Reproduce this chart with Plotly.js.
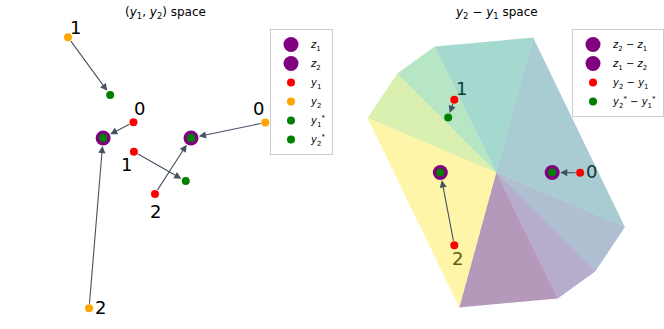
<!DOCTYPE html>
<html><head><meta charset="utf-8">
<script src="https://cdn.plot.ly/plotly-3.0.1.min.js"></script>
<style>html,body{margin:0;padding:0;background:#fff}#chart{width:664px;height:329px}</style>
</head><body><div id="chart"></div>
<script>
// ---- data ----
const pointIds = ['0', '1', '2'];
const z1 = [0, 0];
const z2 = [2, 0];
const y1x = [0.69, 0.70, 1.18];
const y1y = [0.36, -0.31, -1.27];
const y2x = [3.69, -0.80, -0.32];
const y2y = [0.35, 2.29, -3.87];
const y1starX = [0, 1.88, 2];
const y1starY = [0, -0.98, 0];
const y2starX = [2, 0.16, 0];
const y2starY = [0, 0.98, 0];
// polygon (fan) vertices in y2 - y1 space
const polyX = [2.2, 3.54, 4.6, 1.32, -2.2, -3.54, -4.6, -1.32];
const polyY = [-4.5, -3.54, -1.95, 4.82, 4.5, 3.54, 1.95, -4.82];
const polyColors = ['68,1,84', '70,50,126', '54,92,141', '39,127,142', '31,161,135', '74,193,109', '160,218,57', '253,231,37'];
// label offsets (pixels)
const y1LabelShift = [[6, -14], [-7, 13], [1, 18]];
const y2LabelShift = [[-7, -14], [7, -10], [11, -1]];
const diffLabelShift = [[11, -1], [7, -11], [3, 13]];
const diffLabelColors = ['rgb(16,51,57)', 'rgb(12,64,54)', 'rgb(101,92,15)'];

// ---- derived ----
const dX = y2x.map((v, i) => v - y1x[i]);
const dY = y2y.map((v, i) => v - y1y[i]);
const dsX = y2starX.map((v, i) => v - y1starX[i]);
const dsY = y2starY.map((v, i) => v - y1starY[i]);

const PURPLE = '#800080', RED = '#ff0000', ORANGE = '#ffa500', GREEN = '#008000';
const BIG = 15, SMALL = 8;
const traces = [];

// left panel
traces.push({x: [z1[0]], y: [z1[1]], mode: 'markers', marker: {color: PURPLE, size: BIG}, name: '<i>z</i><sub>1</sub>', legend: 'legend', hoverinfo: 'skip'});
traces.push({x: [z2[0]], y: [z2[1]], mode: 'markers', marker: {color: PURPLE, size: BIG}, name: '<i>z</i><sub>2</sub>', legend: 'legend', hoverinfo: 'skip'});
traces.push({x: y1x, y: y1y, mode: 'markers', marker: {color: RED, size: SMALL}, name: '<i>y</i><sub>1</sub>', legend: 'legend', hoverinfo: 'skip'});
traces.push({x: y2x, y: y2y, mode: 'markers', marker: {color: ORANGE, size: SMALL}, name: '<i>y</i><sub>2</sub>', legend: 'legend', hoverinfo: 'skip'});
traces.push({x: y1starX, y: y1starY, mode: 'markers', marker: {color: GREEN, size: SMALL}, name: '<i>y</i><sub>1</sub><sup>*</sup>', legend: 'legend', hoverinfo: 'skip'});
traces.push({x: y2starX, y: y2starY, mode: 'markers', marker: {color: GREEN, size: SMALL}, name: '<i>y</i><sub>2</sub><sup>*</sup>', legend: 'legend', hoverinfo: 'skip'});

// right panel polygons
for (let k = 0; k < polyX.length; k++) {
  const p = (k - 1 + polyX.length) % polyX.length;
  traces.push({x: [0, polyX[p], polyX[k], 0], y: [0, polyY[p], polyY[k], 0], xaxis: 'x2', yaxis: 'y2',
    mode: 'lines', fill: 'toself', line: {width: 0}, fillcolor: 'rgba(' + polyColors[k] + ',0.4)',
    showlegend: false, hoverinfo: 'skip'});
}
traces.push({x: [z2[0] - z1[0]], y: [z2[1] - z1[1]], xaxis: 'x2', yaxis: 'y2', mode: 'markers', marker: {color: PURPLE, size: BIG}, name: '<i>z</i><sub>2</sub> − <i>z</i><sub>1</sub>', legend: 'legend2', hoverinfo: 'skip'});
traces.push({x: [z1[0] - z2[0]], y: [z1[1] - z2[1]], xaxis: 'x2', yaxis: 'y2', mode: 'markers', marker: {color: PURPLE, size: BIG}, name: '<i>z</i><sub>1</sub> − <i>z</i><sub>2</sub>', legend: 'legend2', hoverinfo: 'skip'});
traces.push({x: dX, y: dY, xaxis: 'x2', yaxis: 'y2', mode: 'markers', marker: {color: RED, size: SMALL}, name: '<i>y</i><sub>2</sub> − <i>y</i><sub>1</sub>', legend: 'legend2', hoverinfo: 'skip'});
traces.push({x: dsX, y: dsY, xaxis: 'x2', yaxis: 'y2', mode: 'markers', marker: {color: GREEN, size: SMALL}, name: '<i>y</i><sub>2</sub><sup>*</sup> − <i>y</i><sub>1</sub><sup>*</sup>', legend: 'legend2', hoverinfo: 'skip'});

// annotations
const ann = [];
const ARROWC = '#465262';
function isOnZ(x, y, cands) { return cands.some(c => Math.abs(c[0] - x) < 1e-6 && Math.abs(c[1] - y) < 1e-6); }
function arrow(tx, ty, hx, hy, xr, yr, big) {
  ann.push({x: hx, y: hy, ax: tx, ay: ty, xref: xr, yref: yr, axref: xr, ayref: yr, text: '', showarrow: true,
    arrowhead: 2, arrowsize: 1.3, arrowwidth: 1.1, arrowcolor: ARROWC, standoff: big ? 8 : 5, startstandoff: 3});
}
const zs = [z1, z2];
for (let i = 0; i < 3; i++) {
  arrow(y1x[i], y1y[i], y1starX[i], y1starY[i], 'x', 'y', isOnZ(y1starX[i], y1starY[i], zs));
  arrow(y2x[i], y2y[i], y2starX[i], y2starY[i], 'x', 'y', isOnZ(y2starX[i], y2starY[i], zs));
  const dz = [[z2[0] - z1[0], z2[1] - z1[1]], [z1[0] - z2[0], z1[1] - z2[1]]];
  arrow(dX[i], dY[i], dsX[i], dsY[i], 'x2', 'y2', isOnZ(dsX[i], dsY[i], dz));
}
const labelFont = {family: 'DejaVu Sans', size: 18, color: '#000'};
for (let i = 0; i < 3; i++) {
  ann.push({x: y1x[i], y: y1y[i], xref: 'x', yref: 'y', text: pointIds[i], showarrow: false, font: labelFont,
    xshift: y1LabelShift[i][0], yshift: -y1LabelShift[i][1]});
  ann.push({x: y2x[i], y: y2y[i], xref: 'x', yref: 'y', text: pointIds[i], showarrow: false, font: labelFont,
    xshift: y2LabelShift[i][0], yshift: -y2LabelShift[i][1]});
  ann.push({x: dX[i], y: dY[i], xref: 'x2', yref: 'y2', text: pointIds[i], showarrow: false,
    font: {family: 'DejaVu Sans', size: 18, color: diffLabelColors[i]},
    xshift: diffLabelShift[i][0], yshift: -diffLabelShift[i][1]});
}
const titleFont = {family: 'DejaVu Sans', size: 12, color: '#000'};
ann.push({x: 166 / 664, y: 1 - 13 / 329, xref: 'paper', yref: 'paper', text: '(<i>y</i><sub>1</sub>, <i>y</i><sub>2</sub>) space', showarrow: false, font: titleFont, xanchor: 'center', yanchor: 'middle'});
ann.push({x: 497 / 664, y: 1 - 13 / 329, xref: 'paper', yref: 'paper', text: '<i>y</i><sub>2</sub> − <i>y</i><sub>1</sub> space', showarrow: false, font: titleFont, xanchor: 'center', yanchor: 'middle'});

const hidden = {visible: false, fixedrange: true};
const legendStyle = {font: {family: 'DejaVu Sans', size: 10, color: '#000'}, bordercolor: '#cccccc', borderwidth: 1,
  bgcolor: 'rgba(255,255,255,0.8)', xanchor: 'left', yanchor: 'top', itemwidth: 30};
const layout = {
  width: 664, height: 329, margin: {l: 0, r: 0, t: 0, b: 0},
  paper_bgcolor: '#fff', plot_bgcolor: 'rgba(0,0,0,0)',
  font: {family: 'DejaVu Sans'},
  xaxis: Object.assign({range: [-2.2, 5.0], domain: [0.00979, 0.48690]}, hidden),
  yaxis: Object.assign({range: [-4.3, 2.75], domain: [0.00547, 0.94833]}, hidden),
  xaxis2: Object.assign({range: [-5.2, 5.2], domain: [0.52922, 0.96777]}, hidden),
  yaxis2: Object.assign({range: [-5.3, 5.3], domain: [0.02462, 0.92675]}, hidden),
  legend: Object.assign({x: 270 / 664, y: 1 - 29 / 329}, legendStyle),
  legend2: Object.assign({x: 573 / 664, y: 1 - 29 / 329}, legendStyle),
  annotations: ann,
  showlegend: true
};
Plotly.newPlot('chart', traces, layout, {staticPlot: true, displayModeBar: false});
</script>
</body></html>
